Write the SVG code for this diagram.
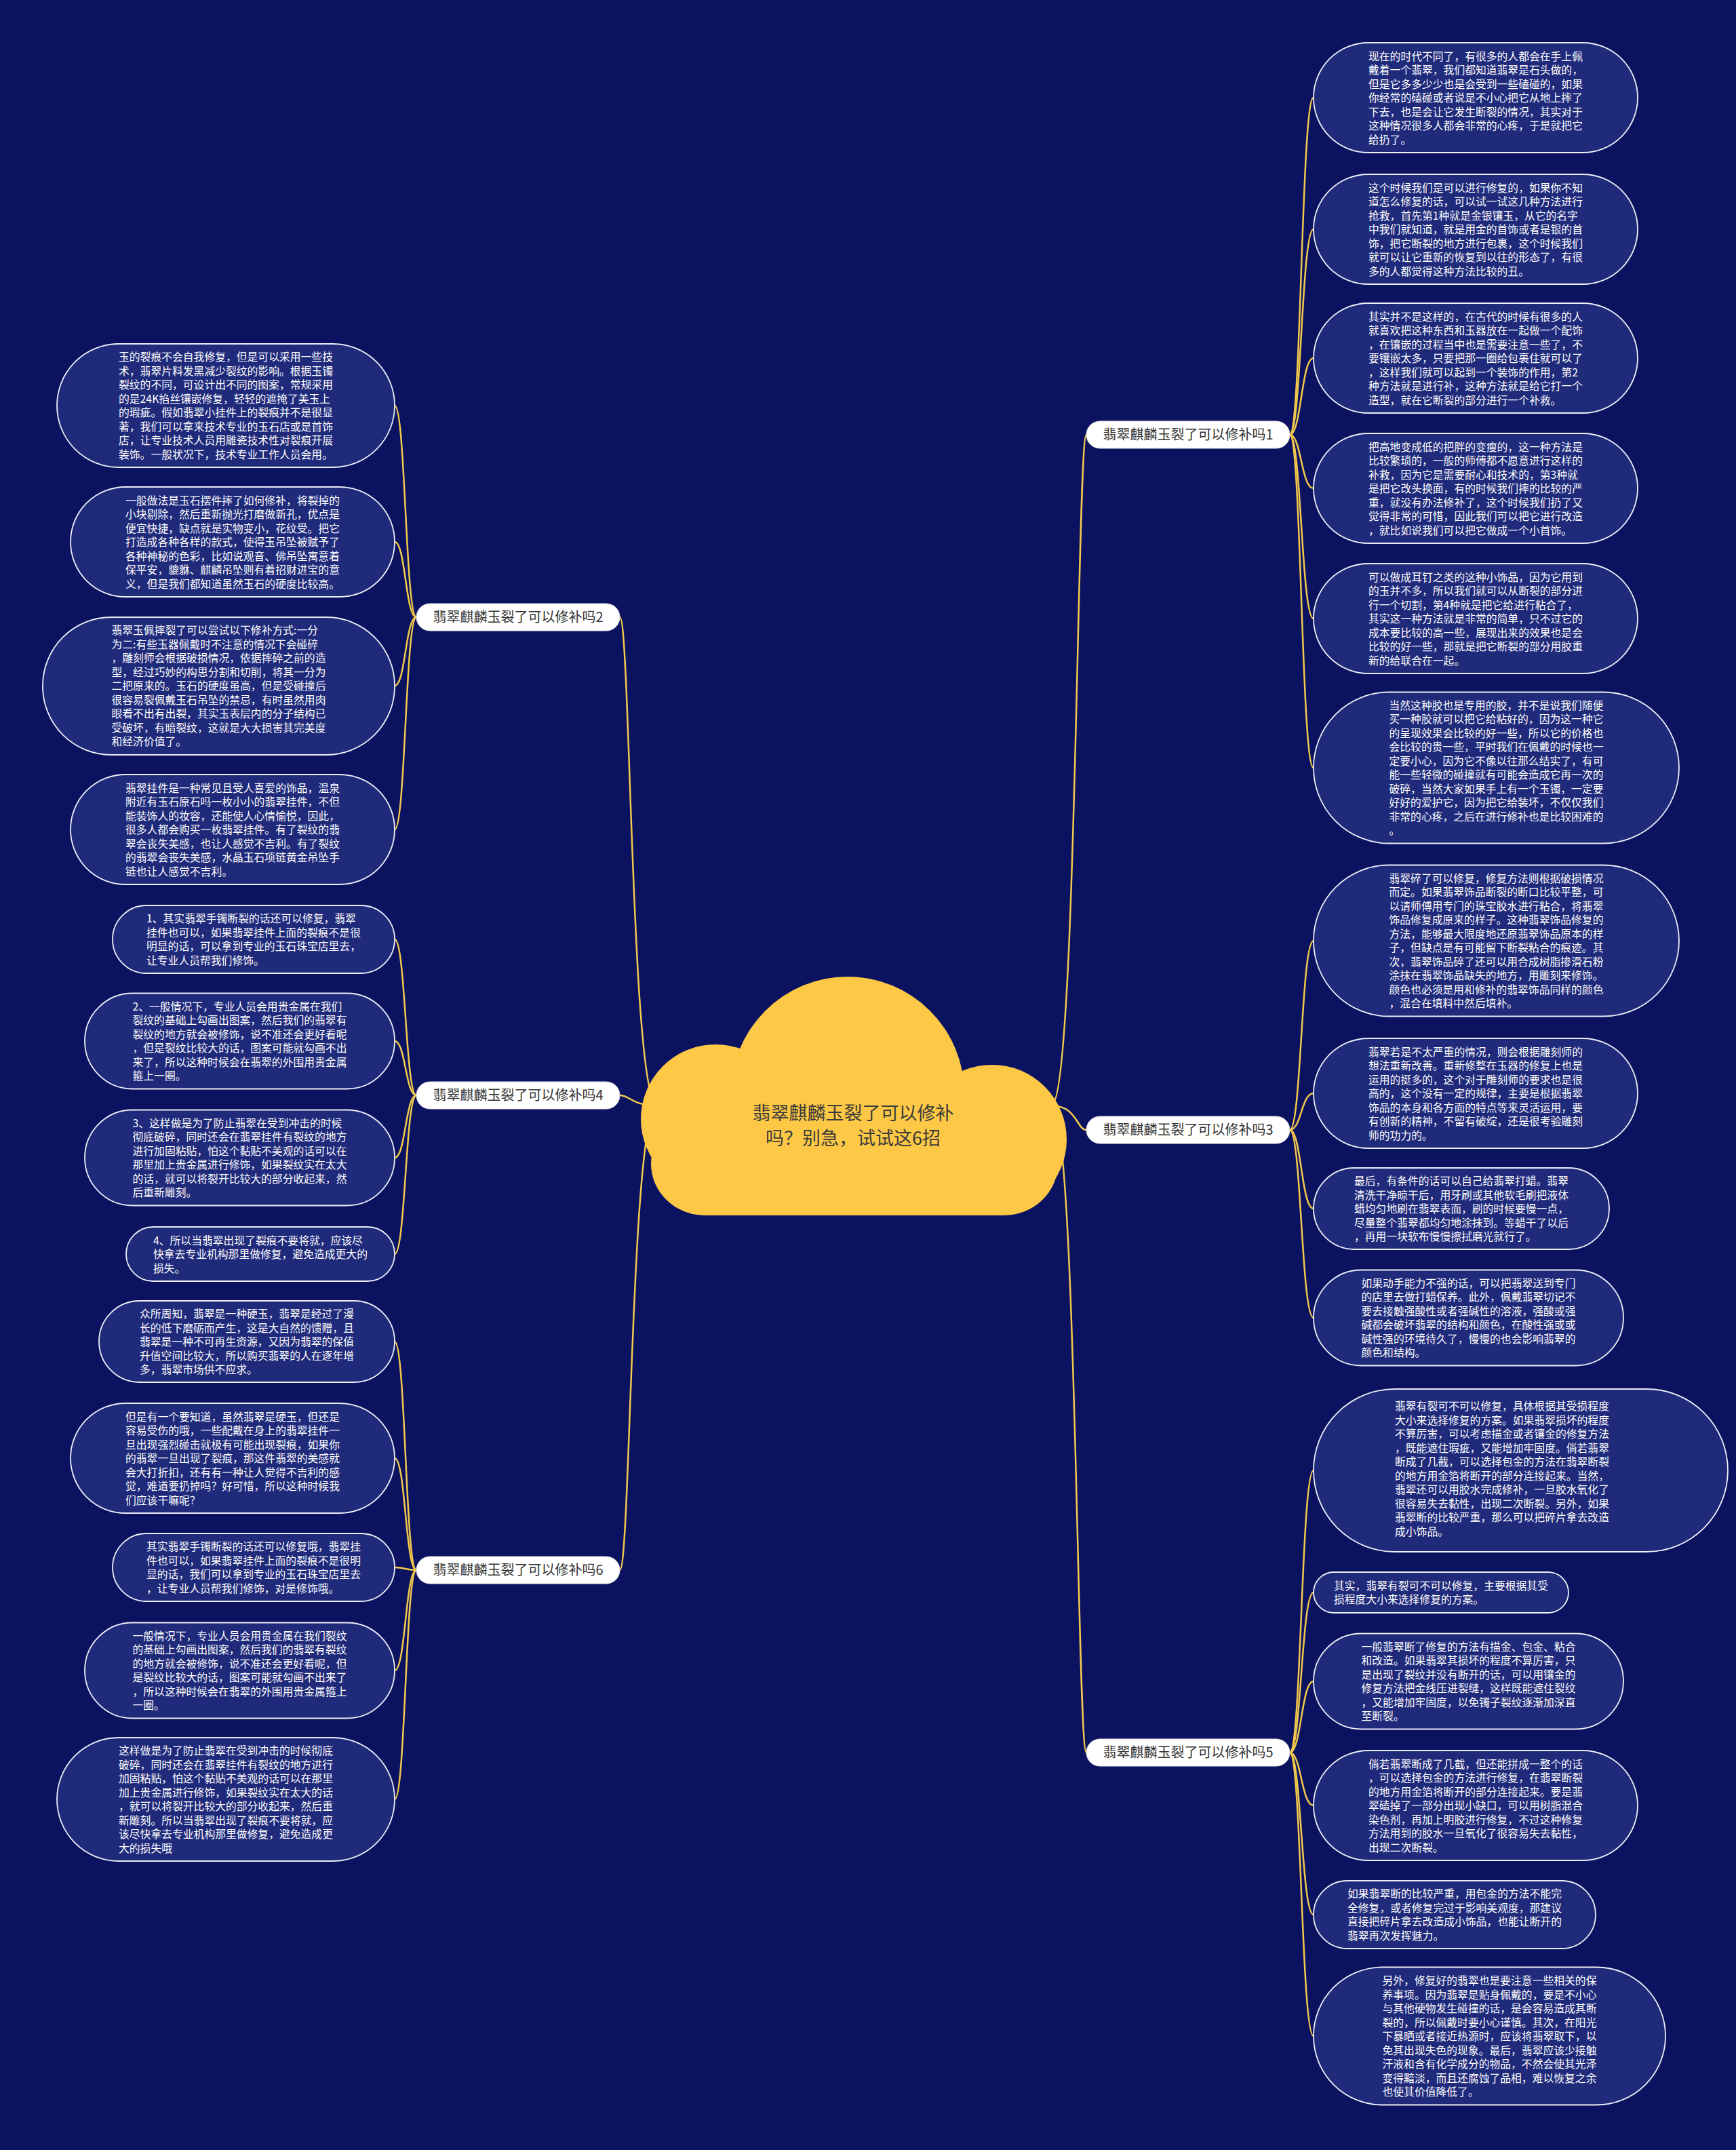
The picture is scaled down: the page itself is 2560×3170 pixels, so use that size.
<svg xmlns="http://www.w3.org/2000/svg" width="2560" height="3170" viewBox="0 0 2560 3170">
<style>
.lf{fill:#1F2A7B;stroke:#ECEEF6;stroke-width:1.8}
.lt{fill:#FFFFFF;font-size:15.8px;font-family:"Noto Sans CJK SC","Noto Sans",sans-serif}
.br{fill:#FFFFFF;stroke:#E2E2E2;stroke-width:1}
.bt{fill:#333333;font-size:20px;font-family:"Noto Sans CJK SC","Noto Sans",sans-serif;text-anchor:middle}
.cl{fill:#FDC846}
.ct{fill:#3A3A3A;font-size:27px;font-family:"Noto Sans CJK SC","Noto Sans",sans-serif;text-anchor:middle}
.cn{fill:none;stroke:#F2C94C;stroke-width:2.5}
</style>
<rect x="0" y="0" width="2560" height="3170" fill="#0B1361"/>
<g id="connectors">
<path class="cn" d="M1550 1630 C1588 1630 1588 641 1602 641"/>
<path class="cn" d="M1550 1630 C1588 1630 1588 1666 1602 1666"/>
<path class="cn" d="M1550 1630 C1588 1630 1588 2584 1602 2584"/>
<path class="cn" d="M970 1630 C930 1630 930 910 914 910"/>
<path class="cn" d="M970 1630 C930 1630 930 1615 914 1615"/>
<path class="cn" d="M970 1630 C930 1630 930 2315 914 2315"/>
<path class="cn" d="M614 910 C598 910 598 598 582 598"/>
<path class="cn" d="M614 910 C598 910 598 799 582 799"/>
<path class="cn" d="M614 910 C598 910 598 1011 582 1011"/>
<path class="cn" d="M614 910 C598 910 598 1223 582 1223"/>
<path class="cn" d="M614 1615 C598 1615 598 1385 582 1385"/>
<path class="cn" d="M614 1615 C598 1615 598 1535 582 1535"/>
<path class="cn" d="M614 1615 C598 1615 598 1707 582 1707"/>
<path class="cn" d="M614 1615 C598 1615 598 1849 582 1849"/>
<path class="cn" d="M614 2315 C598 2315 598 1978 582 1978"/>
<path class="cn" d="M614 2315 C598 2315 598 2150 582 2150"/>
<path class="cn" d="M614 2315 C598 2315 598 2311 582 2311"/>
<path class="cn" d="M614 2315 C598 2315 598 2463 582 2463"/>
<path class="cn" d="M614 2315 C598 2315 598 2653 582 2653"/>
<path class="cn" d="M1902 641 C1919 641 1919 144 1937 144"/>
<path class="cn" d="M1902 641 C1919 641 1919 338 1937 338"/>
<path class="cn" d="M1902 641 C1919 641 1919 528 1937 528"/>
<path class="cn" d="M1902 641 C1919 641 1919 720 1937 720"/>
<path class="cn" d="M1902 641 C1919 641 1919 912 1937 912"/>
<path class="cn" d="M1902 641 C1919 641 1919 1132 1937 1132"/>
<path class="cn" d="M1902 1666 C1919 1666 1919 1387 1937 1387"/>
<path class="cn" d="M1902 1666 C1919 1666 1919 1612 1937 1612"/>
<path class="cn" d="M1902 1666 C1919 1666 1919 1782 1937 1782"/>
<path class="cn" d="M1902 1666 C1919 1666 1919 1943 1937 1943"/>
<path class="cn" d="M1902 2584 C1919 2584 1919 2168 1937 2168"/>
<path class="cn" d="M1902 2584 C1919 2584 1919 2348 1937 2348"/>
<path class="cn" d="M1902 2584 C1919 2584 1919 2479 1937 2479"/>
<path class="cn" d="M1902 2584 C1919 2584 1919 2662 1937 2662"/>
<path class="cn" d="M1902 2584 C1919 2584 1919 2823 1937 2823"/>
<path class="cn" d="M1902 2584 C1919 2584 1919 3002 1937 3002"/>
</g>
<g id="center">
<circle class="cl" cx="1055" cy="1650" r="110"/>
<circle class="cl" cx="1463" cy="1680" r="110"/>
<circle class="cl" cx="1250" cy="1612" r="172"/>
<rect class="cl" x="960" y="1640" width="600" height="152" rx="80"/>
<text class="ct" x="1258" y="1651">翡翠麒麟玉裂了可以修补</text>
<text class="ct" x="1258" y="1688">吗？别急，试试这6招</text>
</g>
<g id="b1"><rect class="br" x="1602" y="621" width="300" height="40" rx="20"/><text class="bt" x="1752" y="648">翡翠麒麟玉裂了可以修补吗1</text></g>
<g id="b2"><rect class="br" x="614" y="890" width="300" height="40" rx="20"/><text class="bt" x="764" y="917">翡翠麒麟玉裂了可以修补吗2</text></g>
<g id="b3"><rect class="br" x="1602" y="1646" width="300" height="40" rx="20"/><text class="bt" x="1752" y="1673">翡翠麒麟玉裂了可以修补吗3</text></g>
<g id="b4"><rect class="br" x="614" y="1595" width="300" height="40" rx="20"/><text class="bt" x="764" y="1622">翡翠麒麟玉裂了可以修补吗4</text></g>
<g id="b5"><rect class="br" x="1602" y="2564" width="300" height="40" rx="20"/><text class="bt" x="1752" y="2591">翡翠麒麟玉裂了可以修补吗5</text></g>
<g id="b6"><rect class="br" x="614" y="2295" width="300" height="40" rx="20"/><text class="bt" x="764" y="2322">翡翠麒麟玉裂了可以修补吗6</text></g>

<g id="l2a"><rect class="lf" x="84" y="507" width="498" height="182" rx="91"/><text class="lt" x="175" y="532.25"><tspan x="175">玉的裂痕不会自我修复，但是可以采用一些技</tspan><tspan x="175" dy="20.5">术，翡翠片料发黑减少裂纹的影响。根据玉镯</tspan><tspan x="175" dy="20.5">裂纹的不同，可设计出不同的图案，常规采用</tspan><tspan x="175" dy="20.5">的是24K掐丝镶嵌修复，轻轻的遮掩了美玉上</tspan><tspan x="175" dy="20.5">的瑕疵。假如翡翠小挂件上的裂痕并不是很显</tspan><tspan x="175" dy="20.5">著，我们可以拿来技术专业的玉石店或是首饰</tspan><tspan x="175" dy="20.5">店，让专业技术人员用雕瓷技术性对裂痕开展</tspan><tspan x="175" dy="20.5">装饰。一般状况下，技术专业工作人员会用。</tspan></text></g>
<g id="l2b"><rect class="lf" x="104" y="718" width="478" height="162" rx="81"/><text class="lt" x="185" y="743.5"><tspan x="185">一般做法是玉石摆件摔了如何修补，将裂掉的</tspan><tspan x="185" dy="20.5">小块剔除，然后重新抛光打磨做新孔，优点是</tspan><tspan x="185" dy="20.5">便宜快捷，缺点就是实物变小，花纹受。把它</tspan><tspan x="185" dy="20.5">打造成各种各样的款式，使得玉吊坠被赋予了</tspan><tspan x="185" dy="20.5">各种神秘的色彩，比如说观音、佛吊坠寓意着</tspan><tspan x="185" dy="20.5">保平安，貔貅、麒麟吊坠则有着招财进宝的意</tspan><tspan x="185" dy="20.5">义，但是我们都知道虽然玉石的硬度比较高。</tspan></text></g>
<g id="l2c"><rect class="lf" x="63" y="910" width="519" height="203" rx="101"/><text class="lt" x="164.5" y="935"><tspan x="164.5">翡翠玉佩摔裂了可以尝试以下修补方式:一分</tspan><tspan x="164.5" dy="20.5">为二:有些玉器佩戴时不注意的情况下会碰碎</tspan><tspan x="164.5" dy="20.5">，雕刻师会根据破损情况，依据摔碎之前的造</tspan><tspan x="164.5" dy="20.5">型，经过巧妙的构思分割和切削，将其一分为</tspan><tspan x="164.5" dy="20.5">二把原来的。玉石的硬度虽高，但是受碰撞后</tspan><tspan x="164.5" dy="20.5">很容易裂佩戴玉石吊坠的禁忌，有时虽然用肉</tspan><tspan x="164.5" dy="20.5">眼看不出有出裂，其实玉表层内的分子结构已</tspan><tspan x="164.5" dy="20.5">受破坏，有暗裂纹，这就是大大损害其完美度</tspan><tspan x="164.5" dy="20.5">和经济价值了。</tspan></text></g>
<g id="l2d"><rect class="lf" x="104" y="1142" width="478" height="162" rx="81"/><text class="lt" x="185" y="1167.5"><tspan x="185">翡翠挂件是一种常见且受人喜爱的饰品，温泉</tspan><tspan x="185" dy="20.5">附近有玉石原石吗一枚小小的翡翠挂件，不但</tspan><tspan x="185" dy="20.5">能装饰人的妆容，还能使人心情愉悦，因此，</tspan><tspan x="185" dy="20.5">很多人都会购买一枚翡翠挂件。有了裂纹的翡</tspan><tspan x="185" dy="20.5">翠会丧失美感，也让人感觉不吉利。有了裂纹</tspan><tspan x="185" dy="20.5">的翡翠会丧失美感，水晶玉石项链黄金吊坠手</tspan><tspan x="185" dy="20.5">链也让人感觉不吉利。</tspan></text></g>

<g id="l4a"><rect class="lf" x="166" y="1335" width="416" height="100" rx="50"/><text class="lt" x="216" y="1360.25"><tspan x="216">1、其实翡翠手镯断裂的话还可以修复，翡翠</tspan><tspan x="216" dy="20.5">挂件也可以，如果翡翠挂件上面的裂痕不是很</tspan><tspan x="216" dy="20.5">明显的话，可以拿到专业的玉石珠宝店里去，</tspan><tspan x="216" dy="20.5">让专业人员帮我们修饰。</tspan></text></g>
<g id="l4b"><rect class="lf" x="125" y="1464.5" width="457" height="141" rx="70.5"/><text class="lt" x="195.5" y="1489.75"><tspan x="195.5">2、一般情况下，专业人员会用贵金属在我们</tspan><tspan x="195.5" dy="20.5">裂纹的基础上勾画出图案，然后我们的翡翠有</tspan><tspan x="195.5" dy="20.5">裂纹的地方就会被修饰，说不准还会更好看呢</tspan><tspan x="195.5" dy="20.5">，但是裂纹比较大的话，图案可能就勾画不出</tspan><tspan x="195.5" dy="20.5">来了，所以这种时候会在翡翠的外围用贵金属</tspan><tspan x="195.5" dy="20.5">箍上一圈。</tspan></text></g>
<g id="l4c"><rect class="lf" x="125" y="1636.5" width="457" height="141" rx="70.5"/><text class="lt" x="195.5" y="1661.75"><tspan x="195.5">3、这样做是为了防止翡翠在受到冲击的时候</tspan><tspan x="195.5" dy="20.5">彻底破碎，同时还会在翡翠挂件有裂纹的地方</tspan><tspan x="195.5" dy="20.5">进行加固粘贴，怕这个黏贴不美观的话可以在</tspan><tspan x="195.5" dy="20.5">那里加上贵金属进行修饰，如果裂纹实在太大</tspan><tspan x="195.5" dy="20.5">的话，就可以将裂开比较大的部分收起来，然</tspan><tspan x="195.5" dy="20.5">后重新雕刻。</tspan></text></g>
<g id="l4d"><rect class="lf" x="186" y="1809" width="396" height="80" rx="40"/><text class="lt" x="226" y="1834.5"><tspan x="226">4、所以当翡翠出现了裂痕不要将就，应该尽</tspan><tspan x="226" dy="20.5">快拿去专业机构那里做修复，避免造成更大的</tspan><tspan x="226" dy="20.5">损失。</tspan></text></g>

<g id="l6a"><rect class="lf" x="146" y="1918" width="436" height="120" rx="60"/><text class="lt" x="206" y="1943"><tspan x="206">众所周知，翡翠是一种硬玉，翡翠是经过了漫</tspan><tspan x="206" dy="20.5">长的低下磨砺而产生，这是大自然的馈赠，且</tspan><tspan x="206" dy="20.5">翡翠是一种不可再生资源，又因为翡翠的保值</tspan><tspan x="206" dy="20.5">升值空间比较大，所以购买翡翠的人在逐年增</tspan><tspan x="206" dy="20.5">多，翡翠市场供不应求。</tspan></text></g>
<g id="l6b"><rect class="lf" x="104" y="2069" width="478" height="162" rx="81"/><text class="lt" x="185" y="2094.5"><tspan x="185">但是有一个要知道，虽然翡翠是硬玉，但还是</tspan><tspan x="185" dy="20.5">容易受伤的哦，一些配戴在身上的翡翠挂件一</tspan><tspan x="185" dy="20.5">旦出现强烈碰击就极有可能出现裂痕，如果你</tspan><tspan x="185" dy="20.5">的翡翠一旦出现了裂痕，那这件翡翠的美感就</tspan><tspan x="185" dy="20.5">会大打折扣，还有有一种让人觉得不吉利的感</tspan><tspan x="185" dy="20.5">觉，难道要扔掉吗？好可惜，所以这种时候我</tspan><tspan x="185" dy="20.5">们应该干嘛呢？</tspan></text></g>
<g id="l6c"><rect class="lf" x="166" y="2261" width="416" height="100" rx="50"/><text class="lt" x="216" y="2286.25"><tspan x="216">其实翡翠手镯断裂的话还可以修复哦，翡翠挂</tspan><tspan x="216" dy="20.5">件也可以，如果翡翠挂件上面的裂痕不是很明</tspan><tspan x="216" dy="20.5">显的话，我们可以拿到专业的玉石珠宝店里去</tspan><tspan x="216" dy="20.5">，让专业人员帮我们修饰，对是修饰哦。</tspan></text></g>
<g id="l6d"><rect class="lf" x="125" y="2392.5" width="457" height="141" rx="70.5"/><text class="lt" x="195.5" y="2417.75"><tspan x="195.5">一般情况下，专业人员会用贵金属在我们裂纹</tspan><tspan x="195.5" dy="20.5">的基础上勾画出图案，然后我们的翡翠有裂纹</tspan><tspan x="195.5" dy="20.5">的地方就会被修饰，说不准还会更好看呢，但</tspan><tspan x="195.5" dy="20.5">是裂纹比较大的话，图案可能就勾画不出来了</tspan><tspan x="195.5" dy="20.5">，所以这种时候会在翡翠的外围用贵金属箍上</tspan><tspan x="195.5" dy="20.5">一圈。</tspan></text></g>
<g id="l6e"><rect class="lf" x="84" y="2562" width="498" height="182" rx="91"/><text class="lt" x="175" y="2587.25"><tspan x="175">这样做是为了防止翡翠在受到冲击的时候彻底</tspan><tspan x="175" dy="20.5">破碎，同时还会在翡翠挂件有裂纹的地方进行</tspan><tspan x="175" dy="20.5">加固粘贴，怕这个黏贴不美观的话可以在那里</tspan><tspan x="175" dy="20.5">加上贵金属进行修饰，如果裂纹实在太大的话</tspan><tspan x="175" dy="20.5">，就可以将裂开比较大的部分收起来，然后重</tspan><tspan x="175" dy="20.5">新雕刻。所以当翡翠出现了裂痕不要将就，应</tspan><tspan x="175" dy="20.5">该尽快拿去专业机构那里做修复，避免造成更</tspan><tspan x="175" dy="20.5">大的损失哦</tspan></text></g>

<g id="r1a"><rect class="lf" x="1937" y="63" width="478" height="162" rx="81"/><text class="lt" x="2018" y="88.5"><tspan x="2018">现在的时代不同了，有很多的人都会在手上佩</tspan><tspan x="2018" dy="20.5">戴着一个翡翠，我们都知道翡翠是石头做的，</tspan><tspan x="2018" dy="20.5">但是它多多少少也是会受到一些磕碰的，如果</tspan><tspan x="2018" dy="20.5">你经常的磕碰或者说是不小心把它从地上摔了</tspan><tspan x="2018" dy="20.5">下去，也是会让它发生断裂的情况，其实对于</tspan><tspan x="2018" dy="20.5">这种情况很多人都会非常的心疼，于是就把它</tspan><tspan x="2018" dy="20.5">给扔了。</tspan></text></g>
<g id="r1b"><rect class="lf" x="1937" y="257" width="478" height="162" rx="81"/><text class="lt" x="2018" y="282.5"><tspan x="2018">这个时候我们是可以进行修复的，如果你不知</tspan><tspan x="2018" dy="20.5">道怎么修复的话，可以试一试这几种方法进行</tspan><tspan x="2018" dy="20.5">抢救，首先第1种就是金银镶玉，从它的名字</tspan><tspan x="2018" dy="20.5">中我们就知道，就是用金的首饰或者是银的首</tspan><tspan x="2018" dy="20.5">饰，把它断裂的地方进行包裹，这个时候我们</tspan><tspan x="2018" dy="20.5">就可以让它重新的恢复到以往的形态了，有很</tspan><tspan x="2018" dy="20.5">多的人都觉得这种方法比较的丑。</tspan></text></g>
<g id="r1c"><rect class="lf" x="1937" y="447" width="478" height="162" rx="81"/><text class="lt" x="2018" y="472.5"><tspan x="2018">其实并不是这样的，在古代的时候有很多的人</tspan><tspan x="2018" dy="20.5">就喜欢把这种东西和玉器放在一起做一个配饰</tspan><tspan x="2018" dy="20.5">，在镶嵌的过程当中也是需要注意一些了，不</tspan><tspan x="2018" dy="20.5">要镶嵌太多，只要把那一圈给包裹住就可以了</tspan><tspan x="2018" dy="20.5">，这样我们就可以起到一个装饰的作用，第2</tspan><tspan x="2018" dy="20.5">种方法就是进行补，这种方法就是给它打一个</tspan><tspan x="2018" dy="20.5">造型，就在它断裂的部分进行一个补救。</tspan></text></g>
<g id="r1d"><rect class="lf" x="1937" y="639" width="478" height="162" rx="81"/><text class="lt" x="2018" y="664.5"><tspan x="2018">把高地变成低的把胖的变瘦的，这一种方法是</tspan><tspan x="2018" dy="20.5">比较繁琐的，一般的师傅都不愿意进行这样的</tspan><tspan x="2018" dy="20.5">补救，因为它是需要耐心和技术的，第3种就</tspan><tspan x="2018" dy="20.5">是把它改头换面，有的时候我们摔的比较的严</tspan><tspan x="2018" dy="20.5">重，就没有办法修补了，这个时候我们扔了又</tspan><tspan x="2018" dy="20.5">觉得非常的可惜，因此我们可以把它进行改造</tspan><tspan x="2018" dy="20.5">，就比如说我们可以把它做成一个小首饰。</tspan></text></g>
<g id="r1e"><rect class="lf" x="1937" y="831" width="478" height="162" rx="81"/><text class="lt" x="2018" y="856.5"><tspan x="2018">可以做成耳钉之类的这种小饰品，因为它用到</tspan><tspan x="2018" dy="20.5">的玉并不多，所以我们就可以从断裂的部分进</tspan><tspan x="2018" dy="20.5">行一个切割，第4种就是把它给进行粘合了，</tspan><tspan x="2018" dy="20.5">其实这一种方法就是非常的简单，只不过它的</tspan><tspan x="2018" dy="20.5">成本要比较的高一些，展现出来的效果也是会</tspan><tspan x="2018" dy="20.5">比较的好一些，那就是把它断裂的部分用胶重</tspan><tspan x="2018" dy="20.5">新的给联合在一起。</tspan></text></g>
<g id="r1f"><rect class="lf" x="1937" y="1020.5" width="539" height="223" rx="111.5"/><text class="lt" x="2048.5" y="1045.75"><tspan x="2048.5">当然这种胶也是专用的胶，并不是说我们随便</tspan><tspan x="2048.5" dy="20.5">买一种胶就可以把它给粘好的，因为这一种它</tspan><tspan x="2048.5" dy="20.5">的呈现效果会比较的好一些，所以它的价格也</tspan><tspan x="2048.5" dy="20.5">会比较的贵一些，平时我们在佩戴的时候也一</tspan><tspan x="2048.5" dy="20.5">定要小心，因为它不像以往那么结实了，有可</tspan><tspan x="2048.5" dy="20.5">能一些轻微的碰撞就有可能会造成它再一次的</tspan><tspan x="2048.5" dy="20.5">破碎，当然大家如果手上有一个玉镯，一定要</tspan><tspan x="2048.5" dy="20.5">好好的爱护它，因为把它给装坏，不仅仅我们</tspan><tspan x="2048.5" dy="20.5">非常的心疼，之后在进行修补也是比较困难的</tspan><tspan x="2048.5" dy="20.5">。</tspan></text></g>

<g id="r3a"><rect class="lf" x="1937" y="1275.5" width="539" height="223" rx="111.5"/><text class="lt" x="2048.5" y="1300.75"><tspan x="2048.5">翡翠碎了可以修复，修复方法则根据破损情况</tspan><tspan x="2048.5" dy="20.5">而定。如果翡翠饰品断裂的断口比较平整，可</tspan><tspan x="2048.5" dy="20.5">以请师傅用专门的珠宝胶水进行粘合，将翡翠</tspan><tspan x="2048.5" dy="20.5">饰品修复成原来的样子。这种翡翠饰品修复的</tspan><tspan x="2048.5" dy="20.5">方法，能够最大限度地还原翡翠饰品原本的样</tspan><tspan x="2048.5" dy="20.5">子，但缺点是有可能留下断裂粘合的痕迹。其</tspan><tspan x="2048.5" dy="20.5">次，翡翠饰品碎了还可以用合成树脂掺滑石粉</tspan><tspan x="2048.5" dy="20.5">涂抹在翡翠饰品缺失的地方，用雕刻来修饰。</tspan><tspan x="2048.5" dy="20.5">颜色也必须是用和修补的翡翠饰品同样的颜色</tspan><tspan x="2048.5" dy="20.5">，混合在填料中然后填补。</tspan></text></g>
<g id="r3b"><rect class="lf" x="1937" y="1531" width="478" height="162" rx="81"/><text class="lt" x="2018" y="1556.5"><tspan x="2018">翡翠若是不太严重的情况，则会根据雕刻师的</tspan><tspan x="2018" dy="20.5">想法重新改善。重新修整在玉器的修复上也是</tspan><tspan x="2018" dy="20.5">运用的挺多的，这个对于雕刻师的要求也是很</tspan><tspan x="2018" dy="20.5">高的，这个没有一定的规律，主要是根据翡翠</tspan><tspan x="2018" dy="20.5">饰品的本身和各方面的特点等来灵活运用，要</tspan><tspan x="2018" dy="20.5">有创新的精神，不留有破绽，还是很考验雕刻</tspan><tspan x="2018" dy="20.5">师的功力的。</tspan></text></g>
<g id="r3c"><rect class="lf" x="1937" y="1722" width="436" height="120" rx="60"/><text class="lt" x="1997" y="1747"><tspan x="1997">最后，有条件的话可以自己给翡翠打蜡。翡翠</tspan><tspan x="1997" dy="20.5">清洗干净晾干后，用牙刷或其他软毛刷把液体</tspan><tspan x="1997" dy="20.5">蜡均匀地刷在翡翠表面，刷的时候要慢一点，</tspan><tspan x="1997" dy="20.5">尽量整个翡翠都均匀地涂抹到。等蜡干了以后</tspan><tspan x="1997" dy="20.5">，再用一块软布慢慢擦拭磨光就行了。</tspan></text></g>
<g id="r3d"><rect class="lf" x="1937" y="1872.5" width="457" height="141" rx="70.5"/><text class="lt" x="2007.5" y="1897.75"><tspan x="2007.5">如果动手能力不强的话，可以把翡翠送到专门</tspan><tspan x="2007.5" dy="20.5">的店里去做打蜡保养。此外，佩戴翡翠切记不</tspan><tspan x="2007.5" dy="20.5">要去接触强酸性或者强碱性的溶液，强酸或强</tspan><tspan x="2007.5" dy="20.5">碱都会破坏翡翠的结构和颜色，在酸性强或或</tspan><tspan x="2007.5" dy="20.5">碱性强的环境待久了，慢慢的也会影响翡翠的</tspan><tspan x="2007.5" dy="20.5">颜色和结构。</tspan></text></g>

<g id="r5a"><rect class="lf" x="1937" y="2048" width="611" height="240" rx="120"/><text class="lt" x="2057" y="2079"><tspan x="2057">翡翠有裂可不可以修复，具体根据其受损程度</tspan><tspan x="2057" dy="20.5">大小来选择修复的方案。如果翡翠损坏的程度</tspan><tspan x="2057" dy="20.5">不算厉害，可以考虑描金或者镶金的修复方法</tspan><tspan x="2057" dy="20.5">，既能遮住瑕疵，又能增加牢固度。倘若翡翠</tspan><tspan x="2057" dy="20.5">断成了几截，可以选择包金的方法在翡翠断裂</tspan><tspan x="2057" dy="20.5">的地方用金箔将断开的部分连接起来。当然，</tspan><tspan x="2057" dy="20.5">翡翠还可以用胶水完成修补，一旦胶水氧化了</tspan><tspan x="2057" dy="20.5">很容易失去黏性，出现二次断裂。另外，如果</tspan><tspan x="2057" dy="20.5">翡翠断的比较严重，那么可以把碎片拿去改造</tspan><tspan x="2057" dy="20.5">成小饰品。</tspan></text></g>
<g id="r5b"><rect class="lf" x="1937" y="2318" width="376" height="60" rx="30"/><text class="lt" x="1967" y="2343.75"><tspan x="1967">其实，翡翠有裂可不可以修复，主要根据其受</tspan><tspan x="1967" dy="20.5">损程度大小来选择修复的方案。</tspan></text></g>
<g id="r5c"><rect class="lf" x="1937" y="2408.5" width="457" height="141" rx="70.5"/><text class="lt" x="2007.5" y="2433.75"><tspan x="2007.5">一般翡翠断了修复的方法有描金、包金、粘合</tspan><tspan x="2007.5" dy="20.5">和改造。如果翡翠其损坏的程度不算厉害，只</tspan><tspan x="2007.5" dy="20.5">是出现了裂纹并没有断开的话，可以用镶金的</tspan><tspan x="2007.5" dy="20.5">修复方法把金线压进裂缝，这样既能遮住裂纹</tspan><tspan x="2007.5" dy="20.5">，又能增加牢固度，以免镯子裂纹逐渐加深直</tspan><tspan x="2007.5" dy="20.5">至断裂。</tspan></text></g>
<g id="r5d"><rect class="lf" x="1937" y="2581" width="478" height="162" rx="81"/><text class="lt" x="2018" y="2606.5"><tspan x="2018">倘若翡翠断成了几截，但还能拼成一整个的话</tspan><tspan x="2018" dy="20.5">，可以选择包金的方法进行修复，在翡翠断裂</tspan><tspan x="2018" dy="20.5">的地方用金箔将断开的部分连接起来。要是翡</tspan><tspan x="2018" dy="20.5">翠磕掉了一部分出现小缺口，可以用树脂混合</tspan><tspan x="2018" dy="20.5">染色剂，再加上明胶进行修复，不过这种修复</tspan><tspan x="2018" dy="20.5">方法用到的胶水一旦氧化了很容易失去黏性，</tspan><tspan x="2018" dy="20.5">出现二次断裂。</tspan></text></g>
<g id="r5e"><rect class="lf" x="1937" y="2773" width="416" height="100" rx="50"/><text class="lt" x="1987" y="2798.25"><tspan x="1987">如果翡翠断的比较严重，用包金的方法不能完</tspan><tspan x="1987" dy="20.5">全修复，或者修复完过于影响美观度，那建议</tspan><tspan x="1987" dy="20.5">直接把碎片拿去改造成小饰品，也能让断开的</tspan><tspan x="1987" dy="20.5">翡翠再次发挥魅力。</tspan></text></g>
<g id="r5f"><rect class="lf" x="1937" y="2900.5" width="519" height="203" rx="101.5"/><text class="lt" x="2038.5" y="2926"><tspan x="2038.5">另外，修复好的翡翠也是要注意一些相关的保</tspan><tspan x="2038.5" dy="20.5">养事项。因为翡翠是贴身佩戴的，要是不小心</tspan><tspan x="2038.5" dy="20.5">与其他硬物发生碰撞的话，是会容易造成其断</tspan><tspan x="2038.5" dy="20.5">裂的，所以佩戴时要小心谨慎。其次，在阳光</tspan><tspan x="2038.5" dy="20.5">下暴晒或者接近热源时，应该将翡翠取下，以</tspan><tspan x="2038.5" dy="20.5">免其出现失色的现象。最后，翡翠应该少接触</tspan><tspan x="2038.5" dy="20.5">汗液和含有化学成分的物品，不然会使其光泽</tspan><tspan x="2038.5" dy="20.5">变得黯淡，而且还腐蚀了品相，难以恢复之余</tspan><tspan x="2038.5" dy="20.5">也使其价值降低了。</tspan></text></g>
</svg>
